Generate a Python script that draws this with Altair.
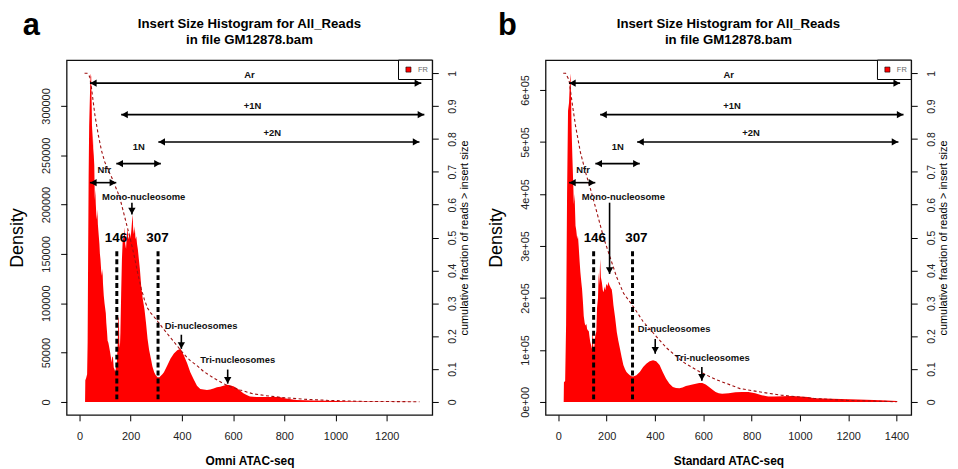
import altair as alt
import pandas as pd

FONT = "Liberation Sans"

# ---------------- Panel a (Omni ATAC-seq) ----------------
a_x = [20, 22, 23, 26, 30, 32, 34, 36, 38, 40, 42, 44, 46, 48, 50, 52, 54, 56, 58, 60,
       62, 64, 66, 68, 70, 72, 75, 78, 80, 82, 85, 88, 90, 92, 95, 98, 100, 103, 105, 108,
       110, 113, 116, 120, 123, 126, 128, 131, 134, 137, 140, 143, 146, 149, 152, 154, 156, 158, 160, 163,
       166, 170, 173, 176, 179, 182, 185, 188, 191, 194, 197, 200, 203, 206, 208, 210, 213, 216, 219, 222,
       225, 228, 232, 236, 241, 247, 254, 260, 266, 272, 279, 285, 292, 298, 305, 312, 318, 324, 330, 343,
       356, 369, 382, 395, 408, 421, 433, 446, 459, 472, 485, 498, 511, 524, 537, 550, 562, 575, 588, 601,
       614, 627, 640, 653, 666, 690, 717, 750, 781, 807, 846, 880, 910, 974, 1040, 1103, 1200, 1280, 1328]
a_density = [0, 0, 22000, 24000, 28000, 60000, 150000, 230000, 280000, 300000, 320000, 333000, 330000, 300000, 260000, 280000, 257000, 250000, 240000, 205000,
             215000, 200000, 190000, 185000, 195000, 180000, 170000, 160000, 150000, 145000, 133000, 128000, 135000, 120000, 108000, 100000, 96000, 90000, 80000, 70000,
             62000, 60000, 56000, 50000, 45000, 40000, 46000, 45000, 35000, 33000, 30000, 36000, 40000, 55000, 85000, 86000, 60000, 55000, 70000, 110000,
             145000, 170000, 165000, 177000, 160000, 155000, 170000, 175000, 165000, 168000, 172000, 166000, 175000, 185000, 190000, 175000, 170000, 178000, 165000, 168000,
             160000, 155000, 145000, 135000, 118000, 105000, 94000, 80000, 64000, 53000, 44000, 36000, 30000, 27000, 25000, 25000, 26500, 28000, 30000, 37000,
             44000, 49000, 52500, 54000, 47000, 39000, 30000, 23000, 16500, 13000, 12500, 12000, 12500, 13500, 15000, 15500, 16500, 17500, 17000, 16000,
             14000, 11500, 8700, 7000, 5500, 5000, 5000, 5000, 5000, 3500, 2000, 1700, 1500, 1200, 800, 500, 300, 100, 0]
a_cum_x = [20, 30, 40, 48, 60, 73, 86, 99, 112, 125, 138, 151, 163, 176, 189, 202, 215, 228, 241, 254,
           266, 279, 292, 305, 330, 356, 382, 408, 433, 459, 485, 524, 575, 627, 678, 742, 807, 871, 974, 1103, 1328]
a_cum = [1.0, 1.0, 0.99, 0.95, 0.875, 0.815, 0.765, 0.73, 0.705, 0.685, 0.66, 0.635, 0.605, 0.565, 0.525, 0.485, 0.44, 0.39, 0.345, 0.31,
         0.285, 0.27, 0.258, 0.245, 0.22, 0.195, 0.17, 0.145, 0.125, 0.11, 0.092, 0.072, 0.05, 0.036, 0.024, 0.017, 0.012, 0.008, 0.004, 0.001, 0.0]

# ---------------- Panel b (Standard ATAC-seq) ----------------
b_x = [20, 22, 23, 28, 32, 36, 40, 44, 48, 50, 52, 55, 58, 61, 64, 67, 71, 74, 78, 81,
       84, 88, 91, 95, 98, 102, 105, 109, 112, 116, 119, 122, 126, 129, 132, 136, 139, 141, 143, 145,
       147, 150, 153, 157, 160, 164, 167, 170, 173, 176, 180, 184, 187, 191, 194, 198, 201, 204, 207, 211,
       214, 218, 221, 224, 228, 235, 242, 248, 255, 262, 269, 276, 282, 289, 296, 303, 310, 323, 337, 351,
       364, 378, 392, 405, 419, 432, 446, 460, 474, 487, 501, 514, 528, 542, 555, 569, 583, 596, 610, 624,
       637, 651, 664, 678, 705, 733, 760, 787, 815, 842, 869, 896, 930, 965, 1000, 1033, 1060, 1100, 1169, 1240,
       1306, 1360, 1401, 1405]
b_density = [0, 0, 38000, 40000, 150000, 400000, 560000, 575000, 620000, 632000, 600000, 520000, 470000, 428000, 380000, 400000, 339000, 330000, 313000, 320000,
             300000, 270000, 250000, 230000, 217000, 190000, 165000, 152000, 147000, 150000, 140000, 138000, 136000, 125000, 115000, 108000, 102000, 130000, 134000, 100000,
             95000, 115000, 128000, 135000, 180000, 200000, 249000, 225000, 275000, 240000, 230000, 215000, 211000, 222000, 215000, 225000, 227000, 222000, 231000, 225000,
             222000, 218000, 216000, 205000, 186000, 162000, 134000, 118000, 102000, 86000, 71000, 63000, 57500, 54000, 51000, 49500, 49000, 51000, 57500, 67000,
             73400, 78000, 80000, 78000, 71000, 57500, 44700, 35000, 28800, 26500, 26000, 27500, 30700, 32000, 33500, 35000, 36400, 36400, 33500, 28800,
             23600, 19000, 16600, 15500, 16500, 18500, 19000, 19000, 16500, 12800, 10500, 10500, 11000, 11500, 10500, 9600, 7000, 6400, 5500, 4500,
             3500, 2500, 1500, 0]
b_cum_x = [20, 30, 44, 57, 71, 91, 112, 132, 160, 187, 214, 241, 270, 310, 350, 392, 446, 514, 583, 651,
           752, 850, 923, 1060, 1197, 1401]
b_cum = [1.0, 1.0, 0.98, 0.91, 0.84, 0.76, 0.70, 0.65, 0.575, 0.50, 0.44, 0.38, 0.33, 0.29, 0.245, 0.21, 0.165, 0.122, 0.092, 0.068,
         0.04, 0.028, 0.02, 0.01, 0.004, 0.0]

# ---------------- Annotations ----------------
arrow_labels = ["Ar", "+1N", "+2N", "1N", "Nfr"]
arrow_y = [0.970, 0.874, 0.791, 0.725, 0.667]
arrow_label_y = [0.995, 0.900, 0.818, 0.776, 0.706]
a_arrow_x1 = [41, 163, 308, 144, 41]
a_arrow_x2 = [1335, 1347, 1328, 318, 144]
a_arrow_lx = [664, 676, 753, 232, 97]
b_arrow_x1 = [44, 173, 326, 153, 44]
b_arrow_x2 = [1415, 1429, 1408, 337, 153]
b_arrow_lx = [705, 719, 798, 246, 102]

peak_labels = ["Mono-nucleosome", "Di-nucleosomes", "Tri-nucleosomes"]
a_peak_x = [205, 398, 579]
a_peak_y1 = [0.606, 0.204, 0.098]
a_peak_y2 = [0.570, 0.161, 0.055]
a_peak_lx = [251, 475, 618]
a_peak_ly = [0.624, 0.230, 0.128]
b_peak_x = [212, 401, 594]
b_peak_y1 = [0.606, 0.191, 0.106]
b_peak_y2 = [0.389, 0.146, 0.064]
b_peak_lx = [269, 479, 637]
b_peak_ly = [0.624, 0.222, 0.134]

cut_sizes = [146, 307]
cut_labels = ["146", "307"]
cut_top = 0.458
cut_label_y = 0.497
a_cut_lx = [143, 305]
b_cut_lx = [151, 323]

title_lines = ["Insert Size Histogram for All_Reads", "in file GM12878.bam"]
frac_ticks = [0, 0.1, 0.2, 0.3, 0.4, 0.5, 0.6, 0.7, 0.8, 0.9, 1.0]

W, H = 368, 357


def build_panel(letter, letter_x, hx, hy, cx, cy, xdom, ydom, xticks, yticks, ylabel_expr,
                ax1, ax2, alx, pkx, pky1, pky2, pklx, pkly, cutlx, xtitle):
    xs = alt.Scale(domain=xdom, nice=False, zero=False)
    fs = alt.Scale(domain=[-0.04, 1.04], nice=False, zero=False)
    xaxis = alt.Axis(values=xticks, title=xtitle, format="d", labelFontSize=11, labelColor="#222",
                     labelPadding=10, tickSize=6, tickColor="#000", grid=False, domain=False,
                     titleFontSize=12, titleFontWeight="bold", titleColor="#000", titlePadding=14,
                     labelOverlap=False, labelFlush=False)

    def X(field):
        return alt.X(field, type="quantitative", scale=xs, axis=xaxis)

    def F(field):
        return alt.Y(field, type="quantitative", scale=fs, axis=None)

    area = alt.Chart(pd.DataFrame({"x": hx, "d": hy})).mark_area(
        color="#FF0000", interpolate="linear").encode(
        x=X("x"),
        y=alt.Y("d:Q", scale=alt.Scale(domain=ydom, nice=False, zero=False),
                axis=alt.Axis(orient="left", values=yticks, labelExpr=ylabel_expr, labelAngle=270,
                              labelAlign="center", labelBaseline="bottom", labelPadding=9,
                              labelFontSize=11, labelColor="#222", tickSize=6, tickColor="#000",
                              grid=False, domain=False, title="Density", titleFontSize=18,
                              titleFontWeight="normal", titleColor="#000", titlePadding=14,
                              labelOverlap=False, labelFlush=False)))

    cum = alt.Chart(pd.DataFrame({"x": cx, "f": cy})).mark_line(
        color="#A01010", strokeDash=[3, 2.5], strokeWidth=1.1).encode(
        x=X("x"),
        y=alt.Y("f:Q", scale=fs,
                axis=alt.Axis(orient="right", values=frac_ticks,
                              labelExpr="datum.value == 0 ? '0' : datum.value > 0.99 ? '1' : format(datum.value, '.1f')",
                              labelAngle=270, labelAlign="center", labelBaseline="top", labelPadding=9,
                              labelFontSize=10.5, labelColor="#222", tickSize=6, tickColor="#000",
                              grid=False, domain=False, title="cumulative fraction of reads > insert size",
                              titleFontSize=11, titleFontWeight="normal", titleColor="#000",
                              titleAngle=270, titleBaseline="top", titlePadding=1,
                              labelOverlap=False, labelFlush=False)))

    cuts = pd.DataFrame({"x": cut_sizes, "top": [cut_top] * 2, "bot": [0.0] * 2,
                         "lx": cutlx, "ly": [cut_label_y] * 2, "label": cut_labels})
    cut_rule = alt.Chart(cuts).mark_rule(color="#000", strokeWidth=3, strokeDash=[5, 3]).encode(
        x=X("x"), y=F("top"), y2="bot")
    cut_text = alt.Chart(cuts).mark_text(fontSize=13.5, fontWeight="bold", color="#000").encode(
        x=X("lx"), y=F("ly"), text="label")

    arrows = pd.DataFrame({"x1": ax1, "x2": ax2, "y": arrow_y, "lx": alx, "ly": arrow_label_y,
                           "label": arrow_labels})
    h_rule = alt.Chart(arrows).mark_rule(color="#000", strokeWidth=1.6).encode(
        x=X("x1"), x2="x2", y=F("y"))
    h_left = alt.Chart(arrows).mark_point(shape="triangle-left", filled=True, color="#000",
                                          size=55, opacity=1, xOffset=3.5).encode(x=X("x1"), y=F("y"))
    h_right = alt.Chart(arrows).mark_point(shape="triangle-right", filled=True, color="#000",
                                           size=55, opacity=1, xOffset=-3.5).encode(x=X("x2"), y=F("y"))
    h_text = alt.Chart(arrows).mark_text(fontSize=9.5, fontWeight="bold", color="#111").encode(
        x=X("lx"), y=F("ly"), text="label")

    peaks = pd.DataFrame({"x": pkx, "y1": pky1, "y2": pky2, "lx": pklx, "ly": pkly, "label": peak_labels})
    v_rule = alt.Chart(peaks).mark_rule(color="#000", strokeWidth=1.6).encode(
        x=X("x"), y=F("y1"), y2="y2")
    v_head = alt.Chart(peaks).mark_point(shape="triangle-down", filled=True, color="#000",
                                         size=55, opacity=1, yOffset=-3.5).encode(x=X("x"), y=F("y2"))
    v_text = alt.Chart(peaks).mark_text(fontSize=9.5, fontWeight="bold", color="#111").encode(
        x=X("lx"), y=F("ly"), text="label")

    one = pd.DataFrame({"t": ["FR"]})
    leg_box = alt.Chart(one).mark_rect(fill="white", stroke="#000", strokeWidth=1).encode(
        x=alt.value(W - 34), x2=alt.value(W), y=alt.value(0), y2=alt.value(19.5))
    leg_sq = alt.Chart(one).mark_square(color="#FF0000", stroke="#000", strokeWidth=0.6, size=26,
                                        opacity=1).encode(x=alt.value(W - 24), y=alt.value(9.5))
    leg_txt = alt.Chart(one).mark_text(fontSize=7.5, color="#666", align="left").encode(
        x=alt.value(W - 14.5), y=alt.value(10), text="t")

    t1 = alt.Chart(pd.DataFrame({"t": [title_lines[0]]})).mark_text(
        fontSize=13.3, fontWeight="bold", color="#000").encode(x=alt.value(W / 2), y=alt.value(-36), text="t")
    t2 = alt.Chart(pd.DataFrame({"t": [title_lines[1]]})).mark_text(
        fontSize=13.3, fontWeight="bold", color="#000").encode(x=alt.value(W / 2), y=alt.value(-20), text="t")
    lab = alt.Chart(pd.DataFrame({"t": [letter]})).mark_text(
        fontSize=31, fontWeight="bold", color="#000", baseline="alphabetic").encode(
        x=alt.value(letter_x), y=alt.value(-25), text="t")

    return alt.layer(area, cum, cut_rule, cut_text, h_rule, h_left, h_right, h_text,
                     v_rule, v_head, v_text, leg_box, leg_sq, leg_txt, t1, t2, lab).resolve_scale(
        y="independent").properties(width=W, height=H)


panel_a = build_panel("a", -35.5, a_x, a_density, a_cum_x, a_cum, [-50, 1378], [-13131, 346465],
                      [0, 200, 400, 600, 800, 1000, 1200],
                      [0, 50000, 100000, 150000, 200000, 250000, 300000],
                      "format(datum.value, 'd')",
                      a_arrow_x1, a_arrow_x2, a_arrow_lx, a_peak_x, a_peak_y1, a_peak_y2,
                      a_peak_lx, a_peak_ly, a_cut_lx, "Omni ATAC-seq")

panel_b = build_panel("b", -38.5, b_x, b_density, b_cum_x, b_cum, [-53, 1461], [-25000, 657500],
                      [0, 200, 400, 600, 800, 1000, 1200, 1400],
                      [0, 100000, 200000, 300000, 400000, 500000, 600000],
                      "datum.value == 0 ? '0e+00' : format(datum.value / 100000, 'd') + 'e+05'",
                      b_arrow_x1, b_arrow_x2, b_arrow_lx, b_peak_x, b_peak_y1, b_peak_y2,
                      b_peak_lx, b_peak_ly, b_cut_lx, "Standard ATAC-seq")

chart = alt.hconcat(panel_a, panel_b, spacing=16).properties(padding=0).configure(
    font=FONT).configure_view(stroke="#111", strokeWidth=1.3)

chart.save("out.html", embed_options={"renderer": "svg", "actions": False})
